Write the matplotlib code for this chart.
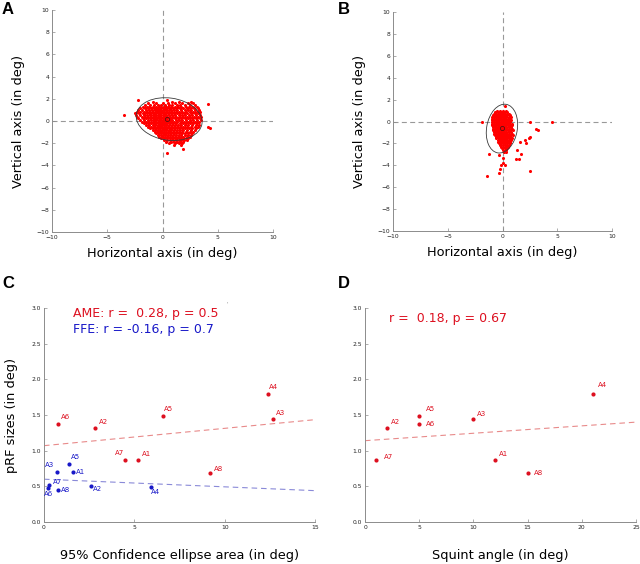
import numpy as np
import matplotlib
matplotlib.use('Agg')
import matplotlib.pyplot as plt
from matplotlib.patches import Ellipse

# ---- panel A: pRF centres, AME (rows of y with the x values seen on that row)
a_rows_y = [1.9, 1.75, 1.6, 1.5, 1.45, 1.3, 1.15, 1.0, 0.85, 0.7, 0.55, 0.4, 0.25, 0.1,
            -0.05, -0.2, -0.35, -0.5, -0.65, -0.8, -0.95, -1.1, -1.25, -1.4, -1.55,
            -1.7, -1.85, -2.0, -2.2, -2.5, -2.9]
a_rows_x = [
    [-2.2, 0.4],
    [-0.9, 0.9, 1.5, 2.6],
    [-1.3, -0.6, 0.0, 0.5, 1.1, 1.8, 2.3, 2.8],
    [4.1],
    [-1.6, -1.1, -0.8, -0.4, -0.1, 0.2, 0.6, 0.9, 1.3, 1.6, 2.0, 2.5, 2.9],
    [-1.8, -1.4, -1.2, -0.9, -0.6, -0.35, -0.15, 0.1, 0.35, 0.5, 0.8, 1.1, 1.4, 1.7, 2.1, 2.4, 2.7, 3.1],
    [-2.0, -1.6, -1.3, -1.05, -0.8, -0.55, -0.4, -0.2, 0.0, 0.2, 0.45, 0.7, 0.95, 1.25, 1.55, 1.9, 2.2, 2.5, 2.85, 3.2],
    [-2.2, -1.85, -1.5, -1.2, -0.95, -0.7, -0.5, -0.3, -0.1, 0.1, 0.3, 0.55, 0.8, 1.05, 1.35, 1.7, 2.0, 2.3, 2.6, 2.95, 3.3],
    [-2.3, -2.0, -1.7, -1.4, -1.15, -0.85, -0.6, -0.4, -0.25, -0.05, 0.15, 0.4, 0.6, 0.9, 1.2, 1.5, 1.8, 2.1, 2.45, 2.75, 3.1, 3.4],
    [-2.5, -2.1, -1.8, -1.55, -1.25, -1.0, -0.75, -0.55, -0.35, -0.2, 0.0, 0.25, 0.5, 0.75, 1.0, 1.3, 1.6, 1.95, 2.25, 2.6, 2.9, 3.25],
    [-3.5, -2.4, -2.0, -1.7, -1.4, -1.1, -0.9, -0.65, -0.45, -0.3, -0.1, 0.1, 0.35, 0.6, 0.85, 1.15, 1.45, 1.75, 2.05, 2.4, 2.7, 3.05, 3.4],
    [-2.3, -1.9, -1.6, -1.3, -1.0, -0.8, -0.55, -0.4, -0.2, 0.0, 0.2, 0.45, 0.7, 0.95, 1.25, 1.55, 1.85, 2.2, 2.5, 2.85, 3.2, 3.5],
    [-2.2, -1.8, -1.45, -1.15, -0.9, -0.7, -0.5, -0.3, -0.15, 0.05, 0.3, 0.55, 0.8, 1.1, 1.4, 1.7, 2.0, 2.35, 2.65, 3.0, 3.35],
    [-2.0, -1.65, -1.3, -1.0, -0.75, -0.55, -0.35, -0.2, 0.0, 0.15, 0.4, 0.65, 0.9, 1.2, 1.5, 1.8, 2.15, 2.5, 2.8, 3.15, 3.45],
    [-1.9, -1.5, -1.2, -0.9, -0.65, -0.45, -0.25, -0.05, 0.1, 0.3, 0.55, 0.8, 1.05, 1.35, 1.65, 1.95, 2.3, 2.6, 2.95, 3.3],
    [-1.7, -1.35, -1.05, -0.8, -0.55, -0.35, -0.15, 0.05, 0.25, 0.45, 0.7, 0.95, 1.25, 1.55, 1.85, 2.15, 2.45, 2.8, 3.15],
    [-1.5, -1.2, -0.9, -0.65, -0.45, -0.25, -0.05, 0.15, 0.35, 0.6, 0.85, 1.1, 1.4, 1.7, 2.0, 2.35, 2.65, 3.0, 3.3],
    [-1.3, -1.0, -0.75, -0.5, -0.3, -0.1, 0.1, 0.3, 0.5, 0.75, 1.0, 1.3, 1.6, 1.9, 2.2, 2.55, 2.9, 3.2, 4.1],
    [-1.1, -0.85, -0.6, -0.4, -0.2, 0.0, 0.2, 0.4, 0.65, 0.9, 1.15, 1.45, 1.75, 2.05, 2.4, 2.7, 3.05, 4.3],
    [-0.9, -0.65, -0.45, -0.25, -0.05, 0.15, 0.35, 0.55, 0.8, 1.05, 1.3, 1.6, 1.9, 2.25, 2.55, 2.9],
    [-0.7, -0.5, -0.3, -0.1, 0.1, 0.3, 0.5, 0.7, 0.95, 1.2, 1.5, 1.8, 2.1, 2.45, 2.75],
    [-0.55, -0.3, -0.1, 0.1, 0.3, 0.5, 0.75, 1.0, 1.25, 1.5, 1.75, 2.05, 2.35, 2.65],
    [-0.4, -0.15, 0.05, 0.25, 0.5, 0.7, 0.95, 1.2, 1.45, 1.7, 2.0, 2.3, 2.55],
    [-0.3, -0.05, 0.2, 0.45, 0.65, 0.9, 1.15, 1.4, 1.65, 1.9, 2.2, 2.45],
    [-0.1, 0.15, 0.4, 0.65, 0.9, 1.1, 1.35, 1.6, 1.85, 2.1, 2.35],
    [0.1, 0.4, 0.7, 0.95, 1.2, 1.45, 1.7, 1.95, 2.2],
    [0.35, 0.75, 1.05, 1.35, 1.6, 1.9],
    [0.6, 1.1, 1.5, 1.8],
    [1.0, 1.7],
    [1.9],
    [0.4],
]
a_centre = (0.45, 0.2)
a_ellipse = (0.6, 0.17, 6.0, 3.8, -8)  # cx, cy, width, height, angle

# ---- panel B: pRF centres, FFE
b_rows_y = [1.45, 1.0, 0.85, 0.7, 0.55, 0.4, 0.25, 0.1, -0.05, -0.2, -0.35, -0.5, -0.65,
            -0.8, -0.95, -1.1, -1.25, -1.4, -1.55, -1.7, -1.85, -2.0, -2.15, -2.3, -2.45,
            -2.6, -2.8, -2.95, -3.1, -3.3, -3.45, -3.8, -4.0, -4.3, -4.5, -4.7, -5.0]
b_rows_x = [
    [0.2],
    [-0.5, -0.25, 0.05, 0.3],
    [-0.7, -0.45, -0.25, -0.05, 0.15, 0.4],
    [-0.8, -0.6, -0.4, -0.25, -0.1, 0.05, 0.2, 0.4, 0.6],
    [-0.9, -0.7, -0.5, -0.35, -0.2, -0.05, 0.1, 0.25, 0.45, 0.65],
    [-0.95, -0.75, -0.55, -0.4, -0.25, -0.1, 0.05, 0.2, 0.35, 0.55, 0.75],
    [-1.0, -0.8, -0.6, -0.45, -0.3, -0.15, 0.0, 0.15, 0.3, 0.5, 0.7],
    [-1.0, -0.8, -0.62, -0.47, -0.32, -0.18, -0.05, 0.1, 0.25, 0.42, 0.6, 0.8],
    [-1.9, -0.95, -0.75, -0.58, -0.43, -0.28, -0.15, 0.0, 0.15, 0.3, 0.5, 0.7, 2.5, 4.5],
    [-1.0, -0.8, -0.62, -0.47, -0.33, -0.2, -0.05, 0.1, 0.25, 0.42, 0.6, 0.85],
    [-0.95, -0.75, -0.58, -0.43, -0.28, -0.15, 0.0, 0.15, 0.3, 0.48, 0.68, 0.9],
    [-0.9, -0.7, -0.55, -0.4, -0.25, -0.1, 0.05, 0.2, 0.35, 0.55, 0.75],
    [-0.88, -0.68, -0.5, -0.35, -0.2, -0.05, 0.1, 0.25, 0.42, 0.62, 0.85, 3.1],
    [-0.85, -0.65, -0.48, -0.32, -0.17, -0.02, 0.13, 0.3, 0.48, 0.7, 0.95, 3.2],
    [-0.8, -0.6, -0.43, -0.28, -0.12, 0.03, 0.18, 0.35, 0.55, 0.78],
    [-0.75, -0.55, -0.38, -0.22, -0.07, 0.08, 0.23, 0.4, 0.6, 0.85],
    [-0.7, -0.5, -0.33, -0.17, -0.02, 0.13, 0.3, 0.48, 0.68, 0.95],
    [-0.6, -0.42, -0.25, -0.1, 0.05, 0.2, 0.37, 0.55, 0.78, 2.5],
    [-0.55, -0.35, -0.18, -0.03, 0.12, 0.28, 0.45, 0.65, 0.9, 2.4],
    [-0.45, -0.27, -0.1, 0.05, 0.2, 0.37, 0.55, 0.8, 2.1],
    [-0.4, -0.2, -0.02, 0.15, 0.32, 0.5, 0.72, 1.6],
    [-0.3, -0.1, 0.08, 0.25, 0.43, 0.65, 2.15],
    [-0.2, 0.0, 0.2, 0.38, 0.58],
    [-0.15, 0.08, 0.3, 0.5],
    [-0.05, 0.2, 0.45],
    [0.05, 0.3, 1.3],
    [0.1, 0.35],
    [-1.2, 1.7],
    [-0.3],
    [0.0],
    [1.25, 1.5],
    [0.0],
    [-0.1, 0.2],
    [-0.2],
    [2.5],
    [-0.3],
    [-1.4],
]
b_centre = (-0.05, -0.6)
b_ellipse = (-0.05, -0.65, 4.5, 2.8, 80)

# ---- panels C and D
subjects = ['A1', 'A2', 'A3', 'A4', 'A5', 'A6', 'A7', 'A8']
ame_area = [5.2, 2.8, 12.7, 12.4, 6.6, 0.8, 4.5, 9.2]
ame_prf = [0.87, 1.32, 1.44, 1.80, 1.49, 1.37, 0.87, 0.69]
ffe_area = [1.6, 2.6, 0.7, 5.9, 1.4, 0.2, 0.3, 0.8]
ffe_prf = [0.70, 0.51, 0.70, 0.49, 0.82, 0.48, 0.52, 0.45]
squint = [12, 2, 10, 21, 5, 5, 1, 15]
ame_fit = (1.07, 0.0243)   # intercept, slope
ffe_fit = (0.60, -0.0107)
squint_fit = (1.14, 0.0104)

RED = '#dd1020'
BLUE = '#1818c8'
GREY = '#8c8c8c'

plt.rcParams['font.family'] = 'DejaVu Sans'
fig = plt.figure(figsize=(6.4, 5.64), dpi=100)
W, H = 640.0, 564.0


def make_ax(l, t, r, b):
    ax = fig.add_axes([l / W, 1 - b / H, (r - l) / W, (b - t) / H])
    for s in ['top', 'right']:
        ax.spines[s].set_visible(False)
    for s in ['left', 'bottom']:
        ax.spines[s].set_color(GREY)
        ax.spines[s].set_linewidth(0.7)
    ax.tick_params(direction='in', length=2, width=0.5, color=GREY,
                   labelsize=4.3, pad=2, labelcolor='#222222')
    return ax


def cloud(ax, rows_y, rows_x, centre, ell):
    xs, ys = [], []
    for y, row in zip(rows_y, rows_x):
        xs += row
        ys += [y] * len(row)
    ax.axhline(0, color='#999999', lw=0.8, ls=(0, (4.5, 3)), zorder=1)
    ax.axvline(0, color='#999999', lw=0.8, ls=(0, (4.5, 3)), zorder=1)
    ax.scatter(xs, ys, s=5, color='red', linewidths=0, zorder=2)
    e = Ellipse((ell[0], ell[1]), ell[2], ell[3], angle=ell[4], fill=False,
                ec='#3a3a3a', lw=0.6, zorder=3)
    ax.add_patch(e)
    ax.plot(*centre, 'o', mfc='none', mec='#551111', ms=3, mew=0.6, zorder=4)
    ax.set_xlim(-10, 10)
    ax.set_ylim(-10, 10)
    ax.set_xticks([-10, -5, 0, 5, 10])
    ax.set_yticks(range(-10, 11, 2))
    ax.set_xlabel('Horizontal axis (in deg)', fontsize=9.3, labelpad=5)
    ax.set_ylabel('Vertical axis (in deg)', fontsize=9.3, labelpad=8)


axA = make_ax(52, 10, 273, 232)
cloud(axA, a_rows_y, a_rows_x, a_centre, a_ellipse)
axB = make_ax(393, 12, 612, 231)
cloud(axB, b_rows_y, b_rows_x, b_centre, b_ellipse)

# C
axC = make_ax(44, 308, 315, 522)
xx = np.array([0, 15])
axC.plot(xx, ame_fit[0] + ame_fit[1] * xx, color='#e88a8a', lw=0.8, ls=(0, (5, 3.5)))
axC.plot(xx, ffe_fit[0] + ffe_fit[1] * xx, color='#8a8ad8', lw=0.8, ls=(0, (5, 3.5)))
axC.scatter(ame_area, ame_prf, s=9, color=RED, linewidths=0, zorder=3)
axC.scatter(ffe_area, ffe_prf, s=9, color=BLUE, linewidths=0, zorder=3)
ame_off = [(3, 4, 'left'), (3, 4, 'left'), (2, 4.5, 'left'), (0.3, 5, 'left'),
           (0.5, 5, 'left'), (1.7, 5, 'left'), (-1, 5, 'right'), (2.4, 3, 'left')]
ffe_off = [(2, 0, 'left'), (1.2, -2.7, 'left'), (-1.7, 5, 'right'), (0, -3.8, 'left'),
           (1.2, 4.4, 'left'), (1, -4.8, 'center'), (2.2, 2.2, 'left'), (1.5, 0, 'left')]
for lab, x, y, o in zip(subjects, ame_area, ame_prf, ame_off):
    axC.annotate(lab, (x, y), xytext=(o[0], o[1]), textcoords='offset points',
                 ha=o[2], va='center', fontsize=5, color=RED)
for lab, x, y, o in zip(subjects, ffe_area, ffe_prf, ffe_off):
    axC.annotate(lab, (x, y), xytext=(o[0], o[1]), textcoords='offset points',
                 ha=o[2], va='center', fontsize=5, color=BLUE)
axC.set_xlim(0, 15)
axC.set_ylim(0, 3)
axC.set_xticks([0, 5, 10, 15])
axC.set_yticks([0, 0.5, 1, 1.5, 2, 2.5, 3])
axC.set_yticklabels(['0.0', '0.5', '1.0', '1.5', '2.0', '2.5', '3.0'])
axC.set_xlabel('95% Confidence ellipse area (in deg)', fontsize=9.3, labelpad=14)
axC.set_ylabel('pRF sizes (in deg)', fontsize=9.3, labelpad=10)
axC.text(0.107, 0.973, 'AME: r =  0.28, p = 0.5', transform=axC.transAxes,
         fontsize=9, color=RED, va='center')
axC.text(0.107, 0.898, 'FFE: r = -0.16, p = 0.7', transform=axC.transAxes,
         fontsize=9, color=BLUE, va='center')
axC.text(0.672, 1.01, "'", transform=axC.transAxes, fontsize=4, color=GREY)

# D
axD = make_ax(365, 308, 636, 522)
xx = np.array([0, 25])
axD.plot(xx, squint_fit[0] + squint_fit[1] * xx, color='#e88a8a', lw=0.8, ls=(0, (5, 3.5)))
axD.scatter(squint, ame_prf, s=9, color=RED, linewidths=0, zorder=3)
d_off = [(3, 4.3, 'left'), (3.1, 4.1, 'left'), (2.9, 3.8, 'left'), (4.1, 6.5, 'left'),
         (5, 5, 'left'), (5, 0, 'left'), (5.5, 2.4, 'left'), (4.3, 0, 'left')]
for lab, x, y, o in zip(subjects, squint, ame_prf, d_off):
    axD.annotate(lab, (x, y), xytext=(o[0], o[1]), textcoords='offset points',
                 ha=o[2], va='center', fontsize=5, color=RED)
axD.set_xlim(0, 25)
axD.set_ylim(0, 3)
axD.set_xticks([0, 5, 10, 15, 20, 25])
axD.set_yticks([0, 0.5, 1, 1.5, 2, 2.5, 3])
axD.set_yticklabels(['0.0', '0.5', '1.0', '1.5', '2.0', '2.5', '3.0'])
axD.set_xlabel('Squint angle (in deg)', fontsize=9.3, labelpad=14)
axD.text(0.087, 0.95, 'r =  0.18, p = 0.67', transform=axD.transAxes,
         fontsize=9, color=RED, va='center')

# panel letters
for lab, px, py in [('A', 2, 10), ('B', 338, 10), ('C', 2, 284), ('D', 338, 284)]:
    fig.text(px / W, 1 - py / H, lab, fontsize=12, fontweight='bold',
             family='Liberation Sans', va='center', ha='left')

fig.savefig('out.png', dpi=100)
